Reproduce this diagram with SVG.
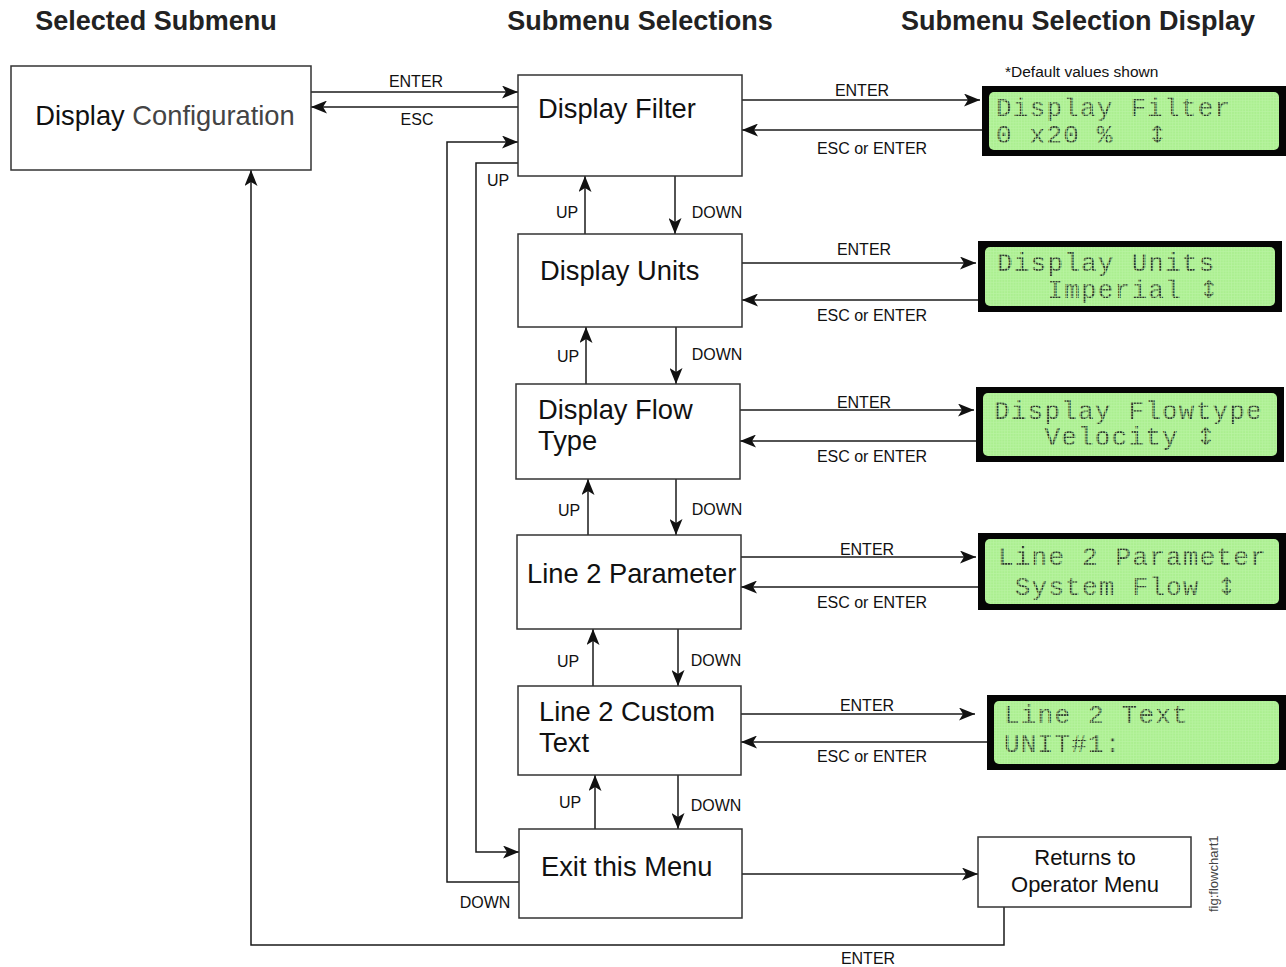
<svg xmlns="http://www.w3.org/2000/svg" width="1286" height="967" viewBox="0 0 1286 967">
  <style>
    .box { fill: #ffffff; stroke: #333333; stroke-width: 1.5; }
    .node { font-family: "Liberation Sans", Arial, sans-serif; font-size: 27.3px; fill: #111111; }
    .node-sm { font-family: "Liberation Sans", Arial, sans-serif; font-size: 22px; fill: #111111; text-anchor: middle; }
    .small { font-family: "Liberation Sans", Arial, sans-serif; font-size: 16px; fill: #111111; text-anchor: middle; }
    .head { font-family: "Liberation Sans", Arial, sans-serif; font-size: 27px; font-weight: bold; fill: #222222; text-anchor: middle; }
    .wire { fill: none; stroke: #1a1a1a; stroke-width: 1.5; }
    .arr { marker-end: url(#head); }
    .lcd-frame { fill: #050505; }
    .lcd-text { font-family: "Liberation Mono", "DejaVu Sans Mono", monospace; font-size: 26px; letter-spacing: 1.2px; white-space: pre; fill: url(#dots); }
    .updown { font-family: "DejaVu Sans", sans-serif; font-size: 24px; }
  </style>
  <defs>
    <marker id="head" viewBox="0 0 16 13" refX="16" refY="6.5" markerWidth="16" markerHeight="13" markerUnits="userSpaceOnUse" orient="auto">
      <path d="M0,0 L16,6.5 L0,13 L4,6.5 Z" fill="#111111"/>
    </marker>
    <!-- dot-matrix fill for LCD characters -->
    <pattern id="dots" width="2.8" height="2.8" patternUnits="userSpaceOnUse">
      <rect width="2.1" height="2.1" fill="#2b332b"/>
    </pattern>
    <!-- faint unlit-pixel grid on the LCD glass -->
    <pattern id="grid" width="2.8" height="2.8" patternUnits="userSpaceOnUse">
      <rect width="2.8" height="2.8" fill="#abef90"/>
      <rect x="2.1" width="0.7" height="2.8" fill="#b9f4a2"/>
      <rect y="2.1" width="2.8" height="0.7" fill="#b9f4a2"/>
    </pattern>
  </defs>

  <rect width="1286" height="967" fill="#ffffff"/>

  <!-- column headings -->
  <g id="headings">
    <text class="head" x="156" y="30">Selected Submenu</text>
    <text class="head" x="640" y="30">Submenu Selections</text>
    <text class="head" x="1078" y="30">Submenu Selection Display</text>
  </g>

  <!-- connectors -->
  <g id="connectors">
    <path class="wire arr" d="M311,92 H518"/>
    <path class="wire arr" d="M518,107 H311"/>
    <path class="wire arr" d="M518,163 H476 V852 H519"/>
    <path class="wire arr" d="M519,882 H447 V142 H518"/>
    <path class="wire arr" d="M1004,907 V945 H251 V170"/>
    <path class="wire arr" d="M742,874 H978"/>

    <path class="wire arr" d="M585,234 V176"/>
    <path class="wire arr" d="M675,176 V234"/>
    <path class="wire arr" d="M586,384 V327"/>
    <path class="wire arr" d="M676,327 V384"/>
    <path class="wire arr" d="M588,535 V479"/>
    <path class="wire arr" d="M676,479 V535"/>
    <path class="wire arr" d="M593,686 V629"/>
    <path class="wire arr" d="M678,629 V686"/>
    <path class="wire arr" d="M595,829 V775"/>
    <path class="wire arr" d="M678,775 V829"/>

    <path class="wire arr" d="M742,100 H980"/>
    <path class="wire arr" d="M982,130 H742"/>
    <path class="wire arr" d="M742,263 H976"/>
    <path class="wire arr" d="M978,300 H742"/>
    <path class="wire arr" d="M740,410 H974"/>
    <path class="wire arr" d="M976,441 H740"/>
    <path class="wire arr" d="M741,557 H976"/>
    <path class="wire arr" d="M978,587 H741"/>
    <path class="wire arr" d="M741,714 H975"/>
    <path class="wire arr" d="M987,742 H741"/>

    <text class="small" x="416" y="87">ENTER</text>
    <text class="small" x="417" y="125">ESC</text>
    <text class="small" x="498" y="186">UP</text>
    <text class="small" x="485" y="908">DOWN</text>
    <text class="small" x="868" y="964">ENTER</text>

    <text class="small" x="567" y="218">UP</text>
    <text class="small" x="717" y="218">DOWN</text>
    <text class="small" x="568" y="362">UP</text>
    <text class="small" x="717" y="360">DOWN</text>
    <text class="small" x="569" y="516">UP</text>
    <text class="small" x="717" y="515">DOWN</text>
    <text class="small" x="568" y="667">UP</text>
    <text class="small" x="716" y="666">DOWN</text>
    <text class="small" x="570" y="808">UP</text>
    <text class="small" x="716" y="811">DOWN</text>

    <text class="small" x="862" y="96">ENTER</text>
    <text class="small" x="872" y="154">ESC or ENTER</text>
    <text class="small" x="864" y="255">ENTER</text>
    <text class="small" x="872" y="321">ESC or ENTER</text>
    <text class="small" x="864" y="408">ENTER</text>
    <text class="small" x="872" y="462">ESC or ENTER</text>
    <text class="small" x="867" y="555">ENTER</text>
    <text class="small" x="872" y="608">ESC or ENTER</text>
    <text class="small" x="867" y="711">ENTER</text>
    <text class="small" x="872" y="762">ESC or ENTER</text>
  </g>

  <!-- submenu -->
  <g id="display-configuration">
    <rect class="box" x="11" y="66" width="300" height="104"/>
    <text class="node" x="165" y="125" text-anchor="middle">Display <tspan fill="#444444">Configuration</tspan></text>
  </g>

  <!-- submenu selections -->
  <g id="display-filter">
    <rect class="box" x="518" y="75" width="224" height="101"/>
    <text class="node" x="538" y="118">Display Filter</text>
  </g>
  <g id="display-units">
    <rect class="box" x="518" y="234" width="224" height="93"/>
    <text class="node" x="540" y="280">Display Units</text>
  </g>
  <g id="display-flow-type">
    <rect class="box" x="516" y="384" width="224" height="95"/>
    <text class="node" x="538" y="419">Display Flow</text>
    <text class="node" x="538" y="450">Type</text>
  </g>
  <g id="line2-parameter">
    <rect class="box" x="517" y="535" width="224" height="94"/>
    <text class="node" x="527" y="583">Line 2 Parameter</text>
  </g>
  <g id="line2-custom-text">
    <rect class="box" x="518" y="686" width="223" height="89"/>
    <text class="node" x="539" y="721">Line 2 Custom</text>
    <text class="node" x="539" y="752">Text</text>
  </g>
  <g id="exit-menu">
    <rect class="box" x="519" y="829" width="223" height="89"/>
    <text class="node" x="541" y="876">Exit this Menu</text>
  </g>
  <g id="returns-operator">
    <rect class="box" x="978" y="837" width="213" height="70"/>
    <text class="node-sm" x="1085" y="865">Returns to</text>
    <text class="node-sm" x="1085" y="892">Operator Menu</text>
  </g>

  <!-- selection displays -->
  <text x="1005" y="77" font-family="Liberation Sans, Arial, sans-serif" font-size="15.5" fill="#111111">*Default values shown</text>

  <g id="lcd-filter">
    <rect class="lcd-frame" x="982" y="86" width="304" height="70"/>
    <rect x="989" y="92" width="290" height="58" rx="5" fill="url(#grid)"/>
    <text class="lcd-text" x="996" y="116">Display Filter</text>
    <text class="lcd-text" x="996" y="143">0 x20 %  <tspan class="updown">↕</tspan></text>
  </g>
  <g id="lcd-units">
    <rect class="lcd-frame" x="978" y="241" width="304" height="71"/>
    <rect x="985" y="247" width="290" height="59" rx="5" fill="url(#grid)"/>
    <text class="lcd-text" x="997" y="271">Display Units</text>
    <text class="lcd-text" x="997" y="298">   Imperial <tspan class="updown">↕</tspan></text>
  </g>
  <g id="lcd-flowtype">
    <rect class="lcd-frame" x="976" y="387" width="308" height="75"/>
    <rect x="983" y="393" width="294" height="63" rx="5" fill="url(#grid)"/>
    <text class="lcd-text" x="994" y="419">Display Flowtype</text>
    <text class="lcd-text" x="994" y="445">   Velocity <tspan class="updown">↕</tspan></text>
  </g>
  <g id="lcd-line2-parameter">
    <rect class="lcd-frame" x="978" y="533" width="308" height="77"/>
    <rect x="985" y="539" width="294" height="65" rx="5" fill="url(#grid)"/>
    <text class="lcd-text" x="998" y="565">Line 2 Parameter</text>
    <text class="lcd-text" x="998" y="595"> System Flow <tspan class="updown">↕</tspan></text>
  </g>
  <g id="lcd-line2-text">
    <rect class="lcd-frame" x="987" y="695" width="299" height="75"/>
    <rect x="994" y="701" width="285" height="63" rx="5" fill="url(#grid)"/>
    <text class="lcd-text" x="1004" y="723">Line 2 Text</text>
    <text class="lcd-text" x="1004" y="752">UNIT#1:</text>
  </g>

  <text x="1218" y="912" transform="rotate(-90 1218 912)" font-family="Liberation Sans, Arial, sans-serif" font-size="13" fill="#444444">fig:flowchart1</text>
</svg>
